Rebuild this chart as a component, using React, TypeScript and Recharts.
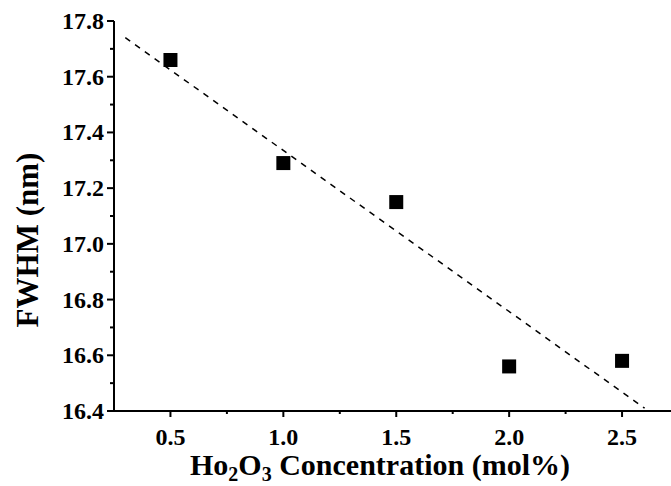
import React from "react";
import { ScatterChart, Scatter, XAxis, YAxis } from "recharts";

const concentration = [0.5, 1.0, 1.5, 2.0, 2.5];
const fwhm = [17.66, 17.29, 17.15, 16.56, 16.58];

// dashed linear fit, end points
const fitX = [0.3, 2.6];
const fitY = [17.74, 16.41];

const xMajorTicks = [0.5, 1.0, 1.5, 2.0, 2.5];
const xMinorTicks = [0.75, 1.25, 1.75, 2.25];
const yMajorTicks = [16.4, 16.6, 16.8, 17.0, 17.2, 17.4, 17.6, 17.8];
const yMinorTicks = [16.5, 16.7, 16.9, 17.1, 17.3, 17.5, 17.7];

const points = concentration.map((x, i) => ({ x, y: fwhm[i] }));
const fitLine = fitX.map((x, i) => ({ x, y: fitY[i] }));

const FONT = "'Liberation Serif', 'Times New Roman', serif";

function isMajor(list: number[], v: number) {
  return list.some((t) => Math.abs(t - v) < 1e-6);
}

function XTick(props: any) {
  const { x, y, payload } = props;
  const major = isMajor(xMajorTicks, payload.value);
  return (
    <g>
      <line x1={x} y1={y} x2={x} y2={y + (major ? 6 : 3)} stroke="#000" strokeWidth={2} />
      {major && (
        <text x={x} y={y + 34} textAnchor="middle" fontFamily={FONT} fontWeight="bold" fontSize={24} fill="#000">
          {payload.value.toFixed(1)}
        </text>
      )}
    </g>
  );
}

function YTick(props: any) {
  const { x, y, payload } = props;
  const major = isMajor(yMajorTicks, payload.value);
  return (
    <g>
      <line x1={x} y1={y} x2={x - (major ? 7 : 4)} y2={y} stroke="#000" strokeWidth={2} />
      {major && (
        <text x={x - 10} y={y + 8} textAnchor="end" fontFamily={FONT} fontWeight="bold" fontSize={24} fill="#000">
          {payload.value.toFixed(1)}
        </text>
      )}
    </g>
  );
}

function Square(props: any) {
  const { cx, cy } = props;
  return <rect x={cx - 7} y={cy - 7} width={14} height={14} fill="#000" />;
}

export default function App() {
  return (
    <div style={{ position: "absolute", left: 0, top: 0, width: 671, height: 486, overflow: "hidden", background: "#fff" }}>
      <ScatterChart width={700} height={486} margin={{ top: 21, right: 21.5, bottom: 0, left: 0 }}>
        <XAxis
          type="number"
          dataKey="x"
          domain={[0.25, 2.75]}
          ticks={[...xMajorTicks, ...xMinorTicks].sort((a, b) => a - b)}
          interval={0}
          tickSize={0}
          tickMargin={0}
          tickLine={false}
          tick={<XTick />}
          axisLine={{ stroke: "#000", strokeWidth: 2 }}
          height={75}
        />
        <XAxis
          xAxisId="top"
          orientation="top"
          type="number"
          dataKey="x"
          domain={[0.25, 2.75]}
          tick={false}
          tickLine={false}
          axisLine={{ stroke: "#000", strokeWidth: 2 }}
          height={0}
        />
        <YAxis
          type="number"
          dataKey="y"
          domain={[16.4, 17.8]}
          ticks={[...yMajorTicks, ...yMinorTicks].sort((a, b) => a - b)}
          interval={0}
          tickSize={0}
          tickMargin={0}
          tickLine={false}
          tick={<YTick />}
          axisLine={{ stroke: "#000", strokeWidth: 2 }}
          width={114}
        />
        <Scatter
          data={fitLine}
          line={{ stroke: "#000", strokeWidth: 1.5, strokeDasharray: "6 6" }}
          shape={() => <g />}
          isAnimationActive={false}
        />
        <Scatter data={points} shape={<Square />} isAnimationActive={false} />
      </ScatterChart>
      <div
        style={{
          position: "absolute",
          left: 0,
          width: 760,
          top: 450,
          textAlign: "center",
          fontFamily: FONT,
          fontWeight: "bold",
          fontSize: 30,
          lineHeight: "30px",
          whiteSpace: "nowrap",
        }}
      >
        Ho<span style={{ fontSize: 20, position: "relative", top: 6 }}>2</span>O
        <span style={{ fontSize: 20, position: "relative", top: 6 }}>3</span> Concentration (mol%)
      </div>
      <div
        style={{
          position: "absolute",
          left: 27,
          top: 240,
          transform: "translate(-50%, -50%) rotate(-90deg)",
          fontFamily: FONT,
          fontWeight: "bold",
          fontSize: 31,
          lineHeight: "31px",
          whiteSpace: "nowrap",
        }}
      >
        FWHM (nm)
      </div>
    </div>
  );
}
